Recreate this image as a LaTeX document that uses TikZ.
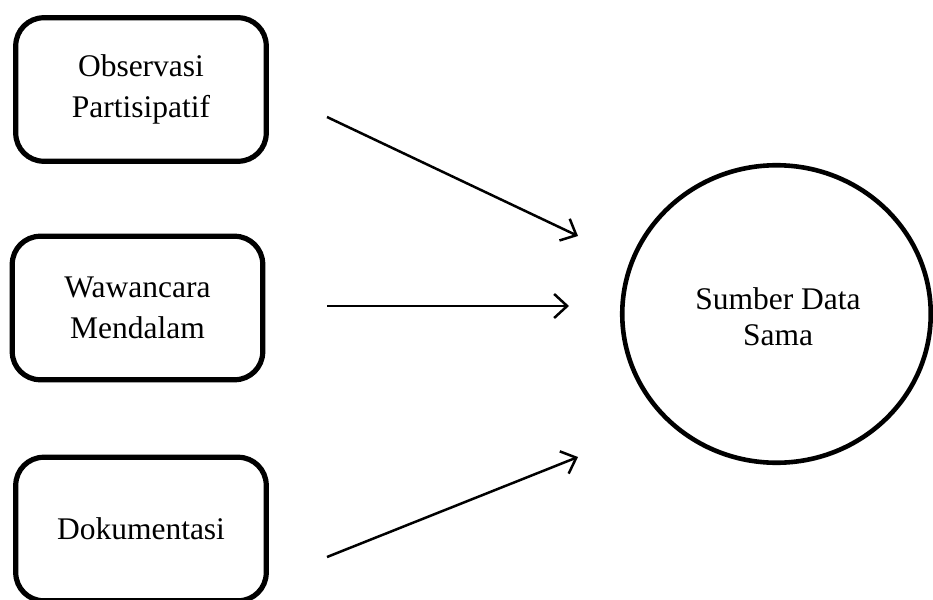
\documentclass[tikz,border=0pt]{standalone}
\usepackage{fontspec}
\setmainfont{Liberation Serif}
\usetikzlibrary{arrows.meta,shapes.geometric}
\begin{document}
\begin{tikzpicture}[x=1pt,y=-1pt,
  methodbox/.style={draw=black,line width=5.2pt,rounded corners=28pt,
    minimum width=250.5pt,minimum height=143.5pt,inner sep=0pt,align=center,
    font=\fontsize{31.5}{41}\selectfont},
  sourcecircle/.style={draw=black,line width=4.6pt,ellipse,
    minimum width=308.5pt,minimum height=297.5pt,inner sep=0pt,align=center,
    font=\fontsize{31.5}{36}\selectfont},
  conn/.style={line width=2.5pt,-{Straight Barb[length=13pt,width=24pt,line width=2.5pt]}}]
\useasboundingbox (0,0) rectangle (933,599);
\node[methodbox] (obs) at (141,89.5) {Observasi\\Partisipatif};
\node[methodbox] (waw) at (137.5,308) {Wawancara\\Mendalam};
\node[methodbox] (dok) at (141,529) {\raisebox{0pt}{Dokumentasi}};
\node[sourcecircle] (src) at (776.5,314) {};
\node[align=center,font=\fontsize{31.5}{36}\selectfont] (srctext) at (778,317) {Sumber Data\\Sama};
\coordinate (s1) at (327,117);
\coordinate (e1) at (578,236);
\coordinate (s2) at (327,306);
\coordinate (e2) at (569,306);
\coordinate (s3) at (327,557);
\coordinate (e3) at (578,457);
\draw[conn] (s1) -- (e1);
\draw[conn] (s2) -- (e2);
\draw[conn] (s3) -- (e3);
\end{tikzpicture}
\end{document}
